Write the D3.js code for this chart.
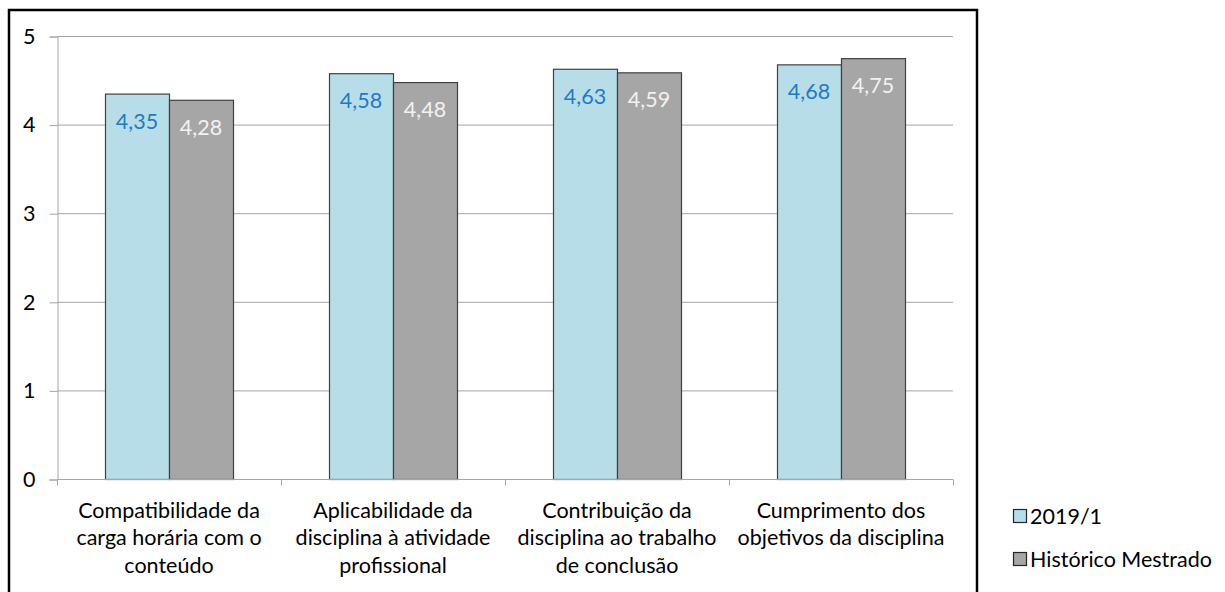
<html>
<head>
	<meta charset="utf-8">
	<script src="https://d3js.org/d3.v7.min.js"></script>
	<style>
		body { margin: 0; background: #fff; }
		text { font-family: Lato, "Open Sans", sans-serif; }
	</style>
</head>
<body>
	<script>
		// dados
		var categorias = [
			["Compatibilidade da", "carga horária com o", "conteúdo"],
			["Aplicabilidade da", "disciplina à atividade", "profissional"],
			["Contribuição da", "disciplina ao trabalho", "de conclusão"],
			["Cumprimento dos", "objetivos da disciplina"]
		];
		var series = ["2019/1", "Histórico Mestrado"];
		var valores2019 = [4.35, 4.58, 4.63, 4.68];
		var valoresHistorico = [4.28, 4.48, 4.59, 4.75];
		var yTicks = [0, 1, 2, 3, 4, 5];

		var W = 1225, H = 592;
		var fs = 21.5; // tamanho da fonte
		var cores = ["#b7dde8", "#a6a6a6"];
		var coresRotulo = ["#1f7ac6", "#f2f2f2"];

		var svg = d3.select("body").append("svg").attr("width", W).attr("height", H);

		// moldura
		svg.append("rect").attr("x", 9).attr("y", 10).attr("width", 968).attr("height", 600)
			.attr("fill", "none").attr("stroke", "#000").attr("stroke-width", 2.5);

		var x0 = d3.scaleBand().domain(d3.range(categorias.length)).range([57, 953]).padding(0);
		var x1 = d3.scaleBand().domain(series).range([0, x0.bandwidth()]).paddingInner(0).paddingOuter(0.75);
		var y = d3.scaleLinear().domain([0, 5]).range([479, 36]);

		// linhas de grade
		svg.append("g").selectAll("line").data(yTicks.filter(function(d){ return d > 0; })).enter()
			.append("line")
			.attr("x1", 57).attr("x2", 953)
			.attr("y1", function(d){ return y(d) + 0.5; }).attr("y2", function(d){ return y(d) + 0.5; })
			.attr("stroke", "#a6a6a6").attr("stroke-width", 1);

		// eixo y
		var yAxis = d3.axisLeft(y).tickValues(yTicks).tickSize(8).tickPadding(14).tickFormat(d3.format("d"));
		var gy = svg.append("g").attr("transform", "translate(57.5,0.5)").call(yAxis);
		gy.select(".domain").attr("stroke", "#a6a6a6");
		gy.selectAll(".tick line").attr("stroke", "#a6a6a6");
		gy.selectAll(".tick text").attr("font-size", fs).attr("fill", "#000")
			.attr("font-family", "Lato, sans-serif");

		// barras
		var dados = categorias.map(function(c, i){
			return [
				{s: 0, serie: series[0], v: valores2019[i]},
				{s: 1, serie: series[1], v: valoresHistorico[i]}
			];
		});

		var grupos = svg.append("g").selectAll("g").data(dados).enter()
			.append("g").attr("transform", function(d, i){ return "translate(" + x0(i) + ",0)"; });

		grupos.selectAll("rect").data(function(d){ return d; }).enter()
			.append("rect")
			.attr("x", function(d){ return x1(d.serie) + 0.5; })
			.attr("y", function(d){ return y(d.v) + 0.5; })
			.attr("width", x1.bandwidth())
			.attr("height", function(d){ return y(0) - y(d.v); })
			.attr("fill", function(d){ return cores[d.s]; })
			.attr("stroke", "#404040").attr("stroke-width", 1.2);

		grupos.selectAll("text").data(function(d){ return d; }).enter()
			.append("text")
			.attr("x", function(d){ return x1(d.serie) + x1.bandwidth() / 2; })
			.attr("y", function(d){ return y(d.v) + 35; })
			.attr("text-anchor", "middle")
			.attr("font-size", fs)
			.attr("fill", function(d){ return coresRotulo[d.s]; })
			.text(function(d){ return d3.format(".2f")(d.v).replace(".", ","); });

		// eixo x
		var gx = svg.append("g").attr("transform", "translate(0,479.5)");
		gx.append("line").attr("x1", 57).attr("x2", 953).attr("stroke", "#a6a6a6");
		gx.selectAll("line.sep").data(d3.range(categorias.length + 1)).enter()
			.append("line").attr("class", "sep")
			.attr("x1", function(i){ return 57.5 + i * x0.step(); })
			.attr("x2", function(i){ return 57.5 + i * x0.step(); })
			.attr("y1", 0).attr("y2", 6)
			.attr("stroke", "#a6a6a6");

		var rotulos = gx.selectAll("text.cat").data(categorias).enter()
			.append("text").attr("class", "cat")
			.attr("text-anchor", "middle")
			.attr("font-size", fs).attr("fill", "#000");
		rotulos.each(function(linhas, i){
			var t = d3.select(this);
			linhas.forEach(function(l, k){
				t.append("tspan")
					.attr("x", x0(i) + x0.bandwidth() / 2)
					.attr("y", 38 + k * 27.5)
					.text(l);
			});
		});

		// legenda
		var leg = svg.append("g").selectAll("g").data(series).enter()
			.append("g").attr("transform", function(d, i){ return "translate(1013," + (509 + i * 43) + ")"; });
		leg.append("rect").attr("x", 0.5).attr("y", 0.5).attr("width", 13).attr("height", 13)
			.attr("fill", function(d, i){ return cores[i]; })
			.attr("stroke", "#262626").attr("stroke-width", 1.2);
		leg.append("text").attr("x", 17).attr("y", 14.5)
			.attr("font-size", fs).attr("fill", "#000")
			.text(function(d){ return d; });
	</script>
</body>
</html>
